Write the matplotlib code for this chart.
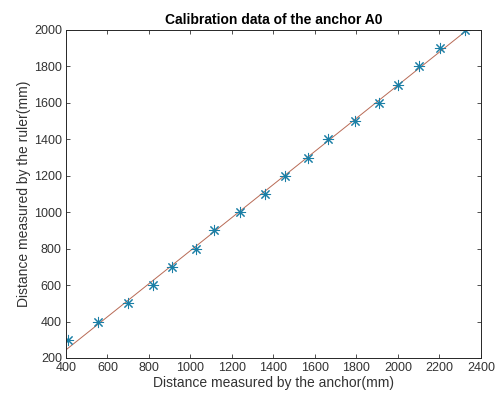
import numpy as np
import matplotlib
matplotlib.use("Agg")
import matplotlib.pyplot as plt

plt.rcParams['font.family'] = ['Liberation Sans', 'DejaVu Sans']

anchor_mm = [408, 555, 700, 820, 910, 1025, 1115, 1240, 1360, 1455, 1568,
             1661, 1794, 1910, 2000, 2101, 2202, 2321]
ruler_mm = [300, 400, 500, 600, 700, 800, 900, 1000, 1100, 1200, 1300,
            1400, 1500, 1600, 1700, 1800, 1900, 2000]
x_ticks = [400, 600, 800, 1000, 1200, 1400, 1600, 1800, 2000, 2200, 2400]
y_ticks = [200, 400, 600, 800, 1000, 1200, 1400, 1600, 1800, 2000]

fig = plt.figure(figsize=(5.02, 3.98), dpi=100)
ax = fig.add_axes([66/502, 1-358/398, (481-66)/502, (358-30)/398])

x = np.array(anchor_mm, dtype=float)
y = np.array(ruler_mm, dtype=float)
k, b = np.polyfit(x, y, 1)
xl = np.array([400, x.max()])
ax.plot(xl, k*xl + b, color='#b86a55', lw=0.7)
ax.plot(x, y, linestyle='none', marker=(8, 2, 0), color='#1b7fa6', ms=8, mew=0.75)

ax.set_xlim(400, 2400)
ax.set_ylim(200, 2000)
ax.set_xticks(x_ticks)
ax.set_yticks(y_ticks)
ax.tick_params(direction='in', top=True, right=True, length=3, width=0.6,
               labelsize=9, colors='#333333', pad=3)
for s in ax.spines.values():
    s.set_linewidth(0.7)
    s.set_color('#262626')
ax.set_xlabel('Distance measured by the anchor(mm)', fontsize=10, color='#333333', labelpad=1)
ax.set_ylabel('Distance measured by the ruler(mm)', fontsize=10, color='#333333', labelpad=2)
ax.set_title('Calibration data of the anchor A0', fontsize=10, fontweight='bold', pad=4)

fig.savefig('out.png', dpi=100)
